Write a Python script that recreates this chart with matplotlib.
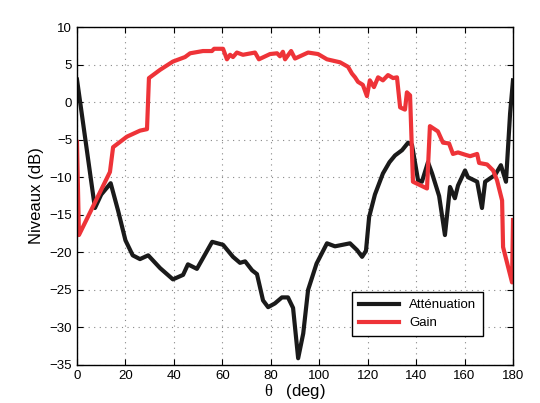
import numpy as np
import matplotlib.pyplot as plt

plt.rcParams['font.family'] = ['Liberation Sans', 'DejaVu Sans']
plt.rcParams['mathtext.fontset'] = 'custom'
plt.rcParams['mathtext.rm'] = 'Liberation Serif'

# Atténuation (black)
att_theta = [0, 7.4, 10, 13.9, 17, 20, 23, 26, 29.4, 34.3, 39.6, 43.8, 45.8, 49.5,
             55.8, 60.3, 64.4, 67.3, 69.4, 72.3, 74.3, 76.8, 78.9, 81.7, 84.6, 87.1,
             89.2, 91.3, 93.4, 95.4, 98.9, 103.2, 106.5, 112.7, 115.6, 117.7, 119.3,
             120.6, 123, 126.3, 129, 131.3, 134.2, 136.7, 138.3, 140.8, 142.4, 144.9,
             146.6, 149.5, 151.9, 154, 156, 157.3, 160.2, 161.4, 165.2, 167.2, 168.5,
             172.6, 175, 177.1, 178.8, 180]
att_db = [3, -14.1, -12.3, -10.8, -14.5, -18.4, -20.4, -20.9, -20.4, -22.1, -23.6,
          -23.0, -21.6, -22.2, -18.6, -19.0, -20.6, -21.4, -21.2, -22.4, -22.9, -26.4,
          -27.3, -26.8, -26.0, -26.0, -27.4, -34.1, -30.8, -25.0, -21.5, -18.8, -19.2,
          -18.8, -19.7, -20.6, -19.8, -15.3, -12.3, -9.5, -8.0, -7.1, -6.4, -5.4, -5.7,
          -10.4, -10.6, -8.0, -9.5, -12.5, -17.7, -11.3, -12.8, -11.1, -9.1, -10.0,
          -10.6, -14.1, -10.6, -9.7, -8.4, -10.6, -1.5, 2.9]

# Gain (red)
gain_theta = [0, 0.8, 13.6, 14.9, 20.6, 26, 28.9, 29.7, 34.3, 39.6, 44.6, 46.7, 52,
              55.7, 56.6, 60.3, 61.9, 63.2, 64.4, 66, 68.5, 73.5, 75.1, 79.7, 82.6,
              83.8, 85, 85.9, 88.4, 90, 95.4, 99.5, 103.2, 108.6, 111.9, 113.5, 114.8,
              116, 118, 119.7, 120.9, 122.6, 124.3, 126.3, 128.4, 130.5, 132.1, 133.4,
              135.4, 136.2, 137.5, 138.7, 144.5, 145.7, 149, 151.1, 153.6, 155.2,
              157.3, 160.2, 162.3, 165.2, 166, 169.3, 171.8, 173.4, 175.5, 175.9,
              179.6, 180]
gain_db = [-5.3, -17.7, -9.3, -6.0, -4.6, -3.8, -3.6, 3.2, 4.3, 5.4, 6.0, 6.5, 6.8,
           6.8, 7.1, 7.1, 5.7, 6.3, 6.0, 6.6, 6.3, 6.6, 5.7, 6.4, 6.5, 6.1, 6.7, 5.7,
           6.8, 5.8, 6.6, 6.4, 5.7, 5.3, 4.7, 3.8, 3.3, 2.7, 2.3, 0.8, 2.9, 2.0, 3.3,
           2.9, 3.6, 3.2, 3.3, -0.7, -1.0, 1.3, 0.9, -10.6, -11.5, -3.2, -3.9, -5.4,
           -5.5, -6.9, -6.7, -7.0, -7.2, -6.9, -8.1, -8.3, -9.1, -10.4, -13.1, -19.3,
           -24.0, -15.7]

fig = plt.figure(figsize=(5.4, 4.03), dpi=100)
ax = fig.add_axes([0.1426, 0.0943, 0.8074, 0.8387])

ax.plot(att_theta, att_db, color='#1a1a1a', linewidth=3, label='Atténuation')
ax.plot(gain_theta, gain_db, color='#ee3338', linewidth=3, label='Gain')

ax.set_xlim(0, 180)
ax.set_ylim(-35, 10)
ax.set_xticks(np.arange(0, 181, 20))
ax.set_yticks(np.arange(-35, 11, 5))
ax.tick_params(direction='in', labelsize=9.5, top=True, right=True, length=4)
ax.grid(True, color='#888888', linestyle=(0, (1, 4)), linewidth=0.8)
for s in ax.spines.values():
    s.set_linewidth(1)

ax.set_xlabel(r'$\mathrm{θ}$   (deg)', fontsize=12, labelpad=0)
ax.set_ylabel('Niveaux (dB)', fontsize=12, labelpad=4)

leg = ax.legend(loc='lower right', bbox_to_anchor=(0.931, 0.086), borderaxespad=0,
                fontsize=9.5, fancybox=False, edgecolor='black', framealpha=1,
                handlelength=3.0, borderpad=0.5, labelspacing=0.45)
leg.get_frame().set_linewidth(1)

fig.savefig('out.png', dpi=100)
